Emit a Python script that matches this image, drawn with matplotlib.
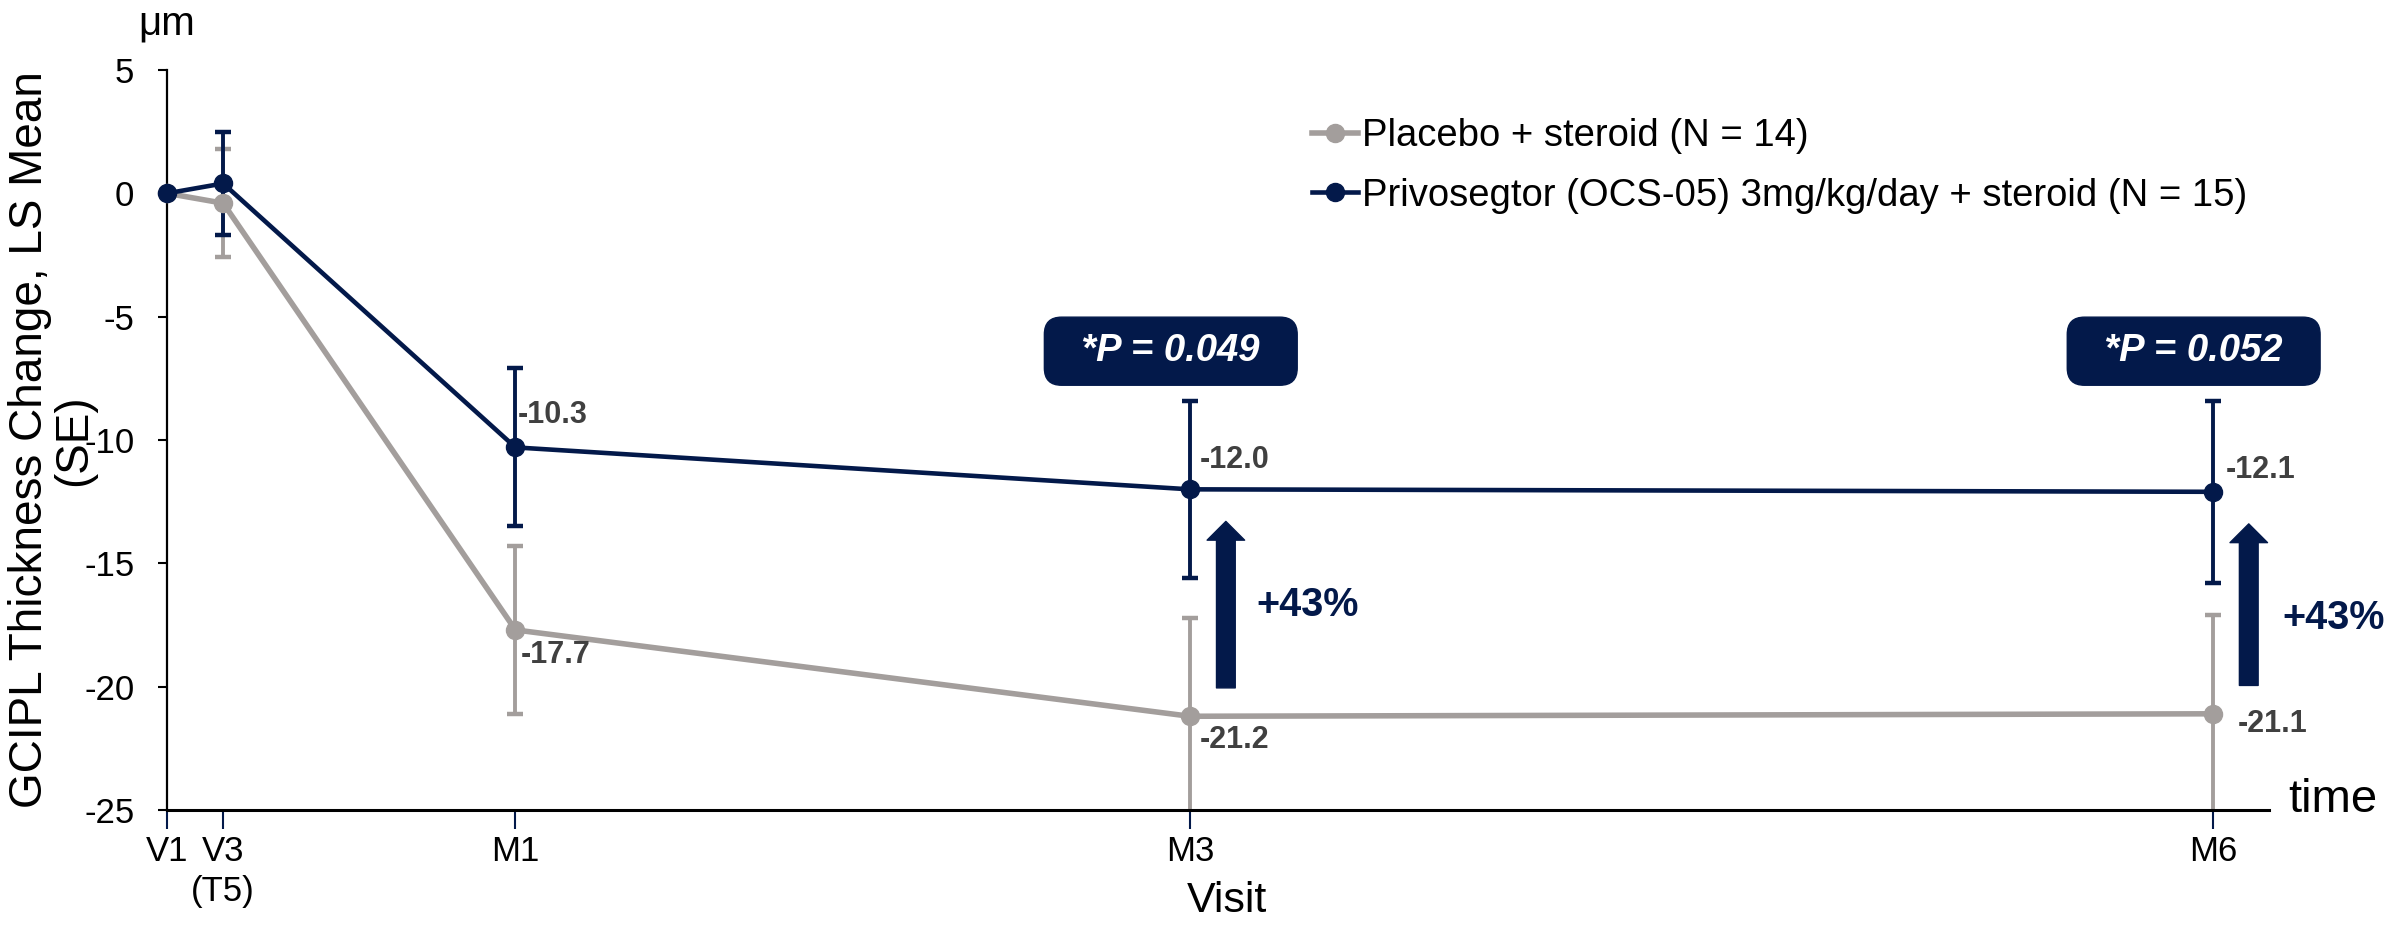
import matplotlib
matplotlib.use("Agg")
import matplotlib.pyplot as plt

plt.rcParams['font.family'] = ['Liberation Sans', 'DejaVu Sans']
plt.rcParams['axes.unicode_minus'] = False

# ---------------- data ----------------
visit_labels = ['V1', 'V3\n(T5)', 'M1', 'M3', 'M6']
visit_days = [0, 5, 31, 91, 182]

placebo_name = 'Placebo + steroid (N = 14)'
placebo_mean = [0.0, -0.4, -17.7, -21.2, -21.1]
placebo_se = [0.0, 2.2, 3.4, 4.0, 4.0]

drug_name = 'Privosegtor (OCS-05) 3mg/kg/day + steroid (N = 15)'
drug_mean = [0.0, 0.4, -10.3, -12.0, -12.1]
drug_se = [0.0, 2.1, 3.2, 3.6, 3.7]

labelled_idx = [2, 3, 4]
pvalue_idx = [3, 4]
pvalues = ['0.049', '0.052']
pct_text = '+43%'

yticks = [-25, -20, -15, -10, -5, 0, 5]
ylabel_lines = ['GCIPL Thickness Change, LS Mean', '(SE)']

# ---------------- style ----------------
NAVY = '#03194A'
GRAY = '#A39E9C'
LABEL = '#404040'
W, H, DPI = 2387, 925, 100

fig = plt.figure(figsize=(W / DPI, H / DPI), dpi=DPI)
x0_px, x1_px = 167, 2269
y0_px, y1_px = 810, 70
ax = fig.add_axes([x0_px / W, 1 - y0_px / H, (x1_px - x0_px) / W, (y0_px - y1_px) / H])
ax.set_xlim(0, 187)
ax.set_ylim(-25, 5)

# error bars (clipped at axis)
ax.errorbar(visit_days, placebo_mean, yerr=placebo_se, fmt='none', ecolor=GRAY,
            elinewidth=2.8, capsize=5.5, capthick=3.2, zorder=2)
ax.errorbar(visit_days, drug_mean, yerr=drug_se, fmt='none', ecolor=NAVY,
            elinewidth=2.8, capsize=5.5, capthick=3.2, zorder=3)

l1, = ax.plot(visit_days, placebo_mean, color=GRAY, lw=4.0, marker='o', ms=13,
              clip_on=False, zorder=4)
l2, = ax.plot(visit_days, drug_mean, color=NAVY, lw=3.3, marker='o', ms=13,
              clip_on=False, zorder=5)

# value labels
drug_off = {2: (2, 23), 3: (7, 21), 4: (9, 16)}
plac_off = {2: (4, -18), 3: (7, -17), 4: (18, -7)}
for i in labelled_idx:
    ax.annotate(f'{drug_mean[i]:.1f}', xy=(visit_days[i], drug_mean[i]),
                xytext=drug_off[i], textcoords='offset points', ha='left', va='center',
                fontsize=22, fontweight='bold', color=LABEL, zorder=6)
    ax.annotate(f'{placebo_mean[i]:.1f}', xy=(visit_days[i], placebo_mean[i]),
                xytext=plac_off[i], textcoords='offset points', ha='left', va='center',
                fontsize=22, fontweight='bold', color=LABEL, zorder=6)

# p-value boxes, arrows and percentages
for k, i in enumerate(pvalue_idx):
    xd = visit_days[i]
    ax.text(xd - 1.7, -6.4, f'  *P = {pvalues[k]}  ', ha='center', va='center',
            fontsize=27.5, fontweight='bold', fontstyle='italic', color='white',
            bbox=dict(boxstyle='round,pad=0.42,rounding_size=0.45', fc=NAVY, ec=NAVY),
            zorder=7)
    ax.annotate('', xy=(xd + 3.2, drug_mean[i] - 1.3), xytext=(xd + 3.2, placebo_mean[i] + 1.15),
                arrowprops=dict(arrowstyle='simple,head_length=0.5,head_width=1.0,tail_width=0.5',
                                mutation_scale=27, color=NAVY, shrinkA=0, shrinkB=0),
                zorder=6)
ax.annotate(pct_text, xy=(visit_days[3], -16.7), xytext=(48, 0), textcoords='offset points',
            ha='left', va='center', fontsize=28.5, fontweight='bold', color=NAVY)
ax.annotate(pct_text, xy=(visit_days[4], -17.2), xytext=(50, 0), textcoords='offset points',
            ha='left', va='center', fontsize=28.5, fontweight='bold', color=NAVY)

# axes styling
for s in ['top', 'right']:
    ax.spines[s].set_visible(False)
ax.spines['left'].set_linewidth(1.6)
ax.spines['bottom'].set_linewidth(2.2)
ax.set_yticks(yticks)
ax.set_yticklabels([str(v) for v in yticks])
ax.tick_params(axis='y', length=6.5, width=1.5, pad=17, labelsize=25, color='black')
ax.set_xticks(visit_days)
ax.set_xticklabels(visit_labels, linespacing=1.25)
ax.tick_params(axis='x', length=14, width=1.5, pad=4, labelsize=25, color=NAVY)

# axis texts (the reference's "(SE)" line touches the "-10" tick label as well)
fig.text(30 / W, 1 - 440 / H, ylabel_lines[0], rotation=90,
         ha='center', va='center', fontsize=33)
fig.text(74 / W, 1 - 440 / H, ylabel_lines[1], rotation=90,
         ha='center', va='center', fontsize=33)
fig.text(167 / W, 1 - 24 / H, 'μm', ha='center', va='center', fontsize=29)
fig.text(1227 / W, 1 - 901 / H, 'Visit', ha='center', va='center', fontsize=31)
fig.text(2288 / W, 1 - 800 / H, 'time', ha='left', va='center', fontsize=34)

# legend
leg = fig.legend([l1, l2], [placebo_name, drug_name], loc='upper left',
                 bbox_to_anchor=(1312 / W, 1 - 118 / H), bbox_transform=fig.transFigure,
                 frameon=False, fontsize=27.5, handlelength=1.2, handletextpad=0.12,
                 labelspacing=0.62, borderpad=0, borderaxespad=0)

fig.savefig('out.png', dpi=DPI)
